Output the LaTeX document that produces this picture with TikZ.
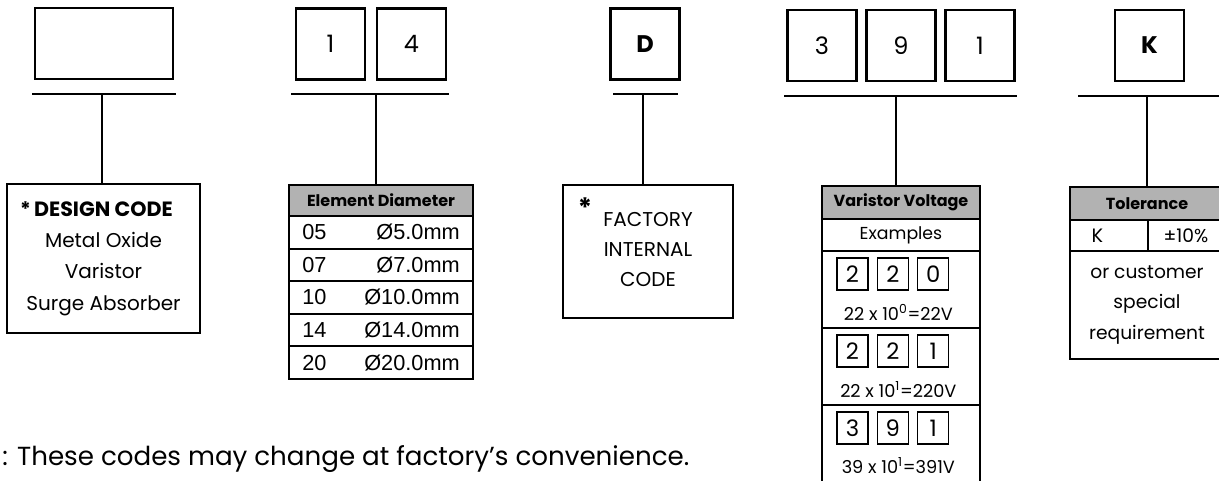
\documentclass[tikz,border=0pt]{standalone}
\usepackage{fontspec}
\setmainfont{Poppins}
\newfontfamily\arialfont{Liberation Sans}
\usetikzlibrary{positioning}
\tikzset{
  digitbox/.style = {rectangle, draw=black, line width=1.6pt, minimum width=51.75pt,
                     minimum height=53.25pt, inner sep=0pt, outer sep=0pt,
                     font=\fontsize{18}{18}\selectfont},
  blankbox/.style = {digitbox, minimum width=103.5pt},
  boldbox/.style  = {digitbox, font=\bfseries\fontsize{18}{18}\selectfont},
  codebar/.style  = {line width=1.6pt},
  stem/.style     = {line width=1.6pt},
  infobox/.style  = {rectangle, draw=black, line width=1.1pt, align=center,
                     inner sep=0pt, outer sep=0pt},
  headcell/.style = {rectangle, draw=black, line width=1.1pt, fill=black!30,
                     inner sep=0pt, outer sep=0pt,
                     font=\bfseries\fontsize{12}{12}\selectfont},
  rowcell/.style  = {rectangle, draw=black, line width=1.4pt, inner sep=0pt, outer sep=0pt},
  minibox/.style  = {rectangle, draw=black, line width=1pt, minimum width=23.25pt,
                     minimum height=24pt, inner sep=0pt, font=\fontsize{17}{17}\selectfont},
  valtext/.style  = {font=\arialfont\fontsize{16.3}{16}\selectfont, inner sep=0pt},
  eqtext/.style   = {font=\fontsize{13.3}{13}\selectfont, inner sep=0pt},
  boxtext/.style  = {align=center, inner sep=0pt, font=\fontsize{15}{23.6}\selectfont},
}
\begin{document}
\begin{tikzpicture}[x=0.75pt,y=-0.75pt]
  \useasboundingbox (0,0) rectangle (1219,481);

  % design code
  \node[blankbox] (c1) at (104,43.5) {};
  \coordinate (b1l) at (32,94); \coordinate (b1r) at (176,94); \coordinate (s1) at (102,94);
  \draw[codebar] (b1l) -- (b1r);
  \node[infobox, minimum width=144.75pt, minimum height=111.75pt] (dc) at (103.5,258.5) {};
  \node[boxtext] (dctext) at (dc.center)
    {\llap{\bfseries*\hspace{2.5pt}}{\bfseries\fontsize{15.5}{23.6}\selectfont DESIGN CODE}\\Metal Oxide\\Varistor\\Surge Absorber};
  \draw[stem] (s1) -- (s1 |- dc.north);

  % element diameter
  \node[digitbox] (c2a) at (330.5,44) {1};
  \node[digitbox, right=9pt of c2a] (c2b) {4};
  \coordinate (b2l) at (291,94); \coordinate (b2r) at (449,94); \coordinate (s2) at (376,94);
  \draw[codebar] (b2l) -- (b2r);
  \node[headcell, minimum width=138pt, minimum height=23.25pt] (ed) at (381,200.5) {Element Diameter};
  \node[rowcell, minimum width=138pt, minimum height=24.45pt, below=0pt of ed] (r05) {};
  \node[rowcell, minimum width=138pt, minimum height=24.45pt, below=0pt of r05] (r07) {};
  \node[rowcell, minimum width=138pt, minimum height=24.45pt, below=0pt of r07] (r10) {};
  \node[rowcell, minimum width=138pt, minimum height=24.45pt, below=0pt of r10] (r14) {};
  \node[rowcell, minimum width=138pt, minimum height=24.45pt, below=0pt of r14] (r20) {};
  \node[valtext, anchor=west] (n05) at ([xshift=9.75pt]r05.west) {05};
  \node[valtext, anchor=east] (d05) at ([xshift=-9.75pt]r05.east) {Ø5.0mm};
  \node[valtext, anchor=west] (n07) at ([xshift=9.75pt]r07.west) {07};
  \node[valtext, anchor=east] (d07) at ([xshift=-9.75pt]r07.east) {Ø7.0mm};
  \node[valtext, anchor=west] (n10) at ([xshift=9.75pt]r10.west) {10};
  \node[valtext, anchor=east] (d10) at ([xshift=-9.75pt]r10.east) {Ø10.0mm};
  \node[valtext, anchor=west] (n14) at ([xshift=9.75pt]r14.west) {14};
  \node[valtext, anchor=east] (d14) at ([xshift=-9.75pt]r14.east) {Ø14.0mm};
  \node[valtext, anchor=west] (n20) at ([xshift=9.75pt]r20.west) {20};
  \node[valtext, anchor=east] (d20) at ([xshift=-9.75pt]r20.east) {Ø20.0mm};
  \draw[stem] (s2) -- (s2 |- ed.north);

  % factory code
  \node[boldbox] (c3) at (645,44) {D};
  \coordinate (b3l) at (613,94); \coordinate (b3r) at (678,94); \coordinate (s3) at (643,94);
  \draw[codebar] (b3l) -- (b3r);
  \node[infobox, minimum width=127.5pt, minimum height=99.75pt] (fc) at (648,251.5) {};
  \node[boxtext, font=\fontsize{15}{22.5}\selectfont] (fctext) at (648,250)
    {FACTORY\\INTERNAL\\CODE};
  \node[inner sep=0pt, font=\bfseries\fontsize{20}{20}\selectfont] (fcstar) at (585,208) {*};
  \draw[stem] (s3) -- (s3 |- fc.north);

  % varistor voltage
  \node[digitbox] (c4a) at (822,45.5) {3};
  \node[digitbox, right=7.5pt of c4a] (c4b) {9};
  \node[digitbox, right=7.5pt of c4b] (c4c) {1};
  \coordinate (b4l) at (784,96); \coordinate (b4r) at (1017,96); \coordinate (s4) at (896,96);
  \draw[codebar] (b4l) -- (b4r);
  \node[headcell, minimum width=118.5pt, minimum height=24.75pt] (vv) at (901,202.5) {Varistor Voltage};
  \node[rowcell, minimum width=118.5pt, minimum height=24pt, below=0pt of vv,
        font=\fontsize{13}{13}\selectfont] (ex) {Examples};
  \node[rowcell, minimum width=118.5pt, minimum height=57.75pt, below=0pt of ex] (e1) {};
  \node[rowcell, minimum width=118.5pt, minimum height=57.75pt, below=0pt of e1] (e2) {};
  \node[rowcell, minimum width=118.5pt, minimum height=57.75pt, below=0pt of e2] (e3) {};
  \node[minibox] (e1a) at ([xshift=-36.4pt,yshift=11.6pt]e1.center) {2};
  \node[minibox, right=6pt of e1a] (e1b) {2};
  \node[minibox, right=6pt of e1b] (e1c) {0};
  \node[eqtext] (e1t) at ([xshift=-2pt,yshift=-16.9pt]e1.center) {22 x 10\textsuperscript{0}=22V};
  \node[minibox] (e2a) at ([xshift=-36.4pt,yshift=11.6pt]e2.center) {2};
  \node[minibox, right=6pt of e2a] (e2b) {2};
  \node[minibox, right=6pt of e2b] (e2c) {1};
  \node[eqtext] (e2t) at ([xshift=-2pt,yshift=-16.9pt]e2.center) {22 x 10\textsuperscript{1}=220V};
  \node[minibox] (e3a) at ([xshift=-36.4pt,yshift=11.6pt]e3.center) {3};
  \node[minibox, right=6pt of e3a] (e3b) {9};
  \node[minibox, right=6pt of e3b] (e3c) {1};
  \node[eqtext] (e3t) at ([xshift=-2pt,yshift=-16.9pt]e3.center) {39 x 10\textsuperscript{1}=391V};
  \draw[stem] (s4) -- (s4 |- vv.north);

  % tolerance
  \node[boldbox] (c5) at (1149.5,45.5) {K};
  \coordinate (b5l) at (1078,96); \coordinate (b5r) at (1226,96); \coordinate (s5) at (1147,96);
  \draw[codebar] (b5l) -- (b5r);
  \node[headcell, minimum width=115.5pt, minimum height=24.75pt] (tol) at (1147,203.5) {Tolerance};
  \node[rowcell, minimum width=58.5pt, minimum height=23.25pt, anchor=north west] (tk) at (tol.south west) {};
  \node[rowcell, minimum width=57pt, minimum height=23.25pt, anchor=north west] (tp) at (tk.north east) {};
  \node[rowcell, minimum width=115.5pt, minimum height=81pt, anchor=north west] (tc) at (tk.south west) {};
  \node[inner sep=0pt, anchor=west, font=\fontsize{14.5}{14}\selectfont] (tktext) at ([xshift=16pt]tk.west) {K};
  \node[inner sep=0pt, font=\fontsize{14}{14}\selectfont] (tptext) at (tp.center) {±10\%};
  \node[boxtext, font=\fontsize{14}{23}\selectfont] (tctext) at (tc.center)
    {or customer\\special\\requirement};
  \draw[stem] (s5) -- (s5 |- tol.north);

  % note
  \node[anchor=base west, inner sep=0pt, font=\fontsize{19.6}{20}\selectfont] (note) at (2,465)
    {: These codes may change at factory’s convenience.};
\end{tikzpicture}
\end{document}
